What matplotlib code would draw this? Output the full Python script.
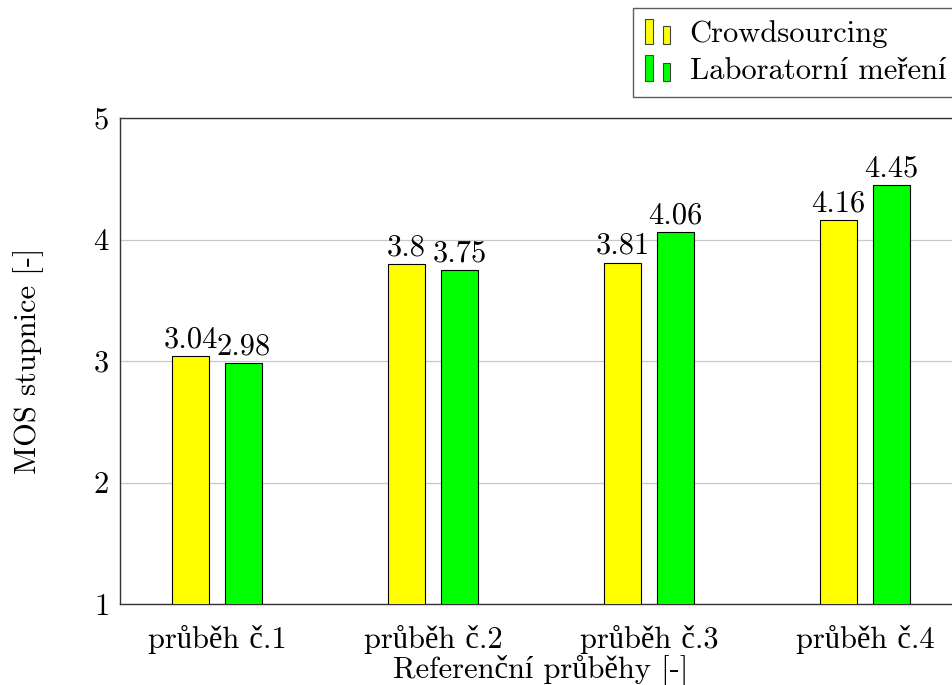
import numpy as np
import matplotlib
matplotlib.use("Agg")
import matplotlib.pyplot as plt
from matplotlib.patches import Rectangle
from matplotlib.legend_handler import HandlerBase

# cmr10 has no Czech accented letters, Liberation Serif fills them in
plt.rcParams['font.family'] = ['cmr10', 'Liberation Serif']
plt.rcParams['mathtext.fontset'] = 'cm'
plt.rcParams['axes.formatter.use_mathtext'] = True

categories = ['průběh č.1', 'průběh č.2', 'průběh č.3', 'průběh č.4']
crowd = [3.04, 3.8, 3.81, 4.16]
lab = [2.98, 3.75, 4.06, 4.45]
series_names = ['Crowdsourcing', 'Laboratorní meření']
colors = ['#ffff00', '#00ff00']


class TwoBars(HandlerBase):
    # pgfplots-like ybar legend image: tall bar + short bar
    def create_artists(self, legend, orig_handle, xd, yd, w, h, fs, trans):
        fc = orig_handle.get_facecolor()
        bw = h * 0.36
        y0 = yd - h * 0.1
        r1 = Rectangle((xd, y0), bw, h * 1.2, facecolor=fc,
                       edgecolor='#444444', lw=0.8, transform=trans)
        r2 = Rectangle((xd + h * 0.81, y0), bw, h * 0.86, facecolor=fc,
                       edgecolor='#444444', lw=0.8, transform=trans)
        return [r1, r2]


fs = 22
fig = plt.figure(figsize=(9.52, 6.85), dpi=100)
ax = fig.add_axes([0.1261, 0.1182, 0.8845, 0.7095])

x = np.arange(1, len(categories) + 1)
bw = 0.171
off = 0.1227
b1 = ax.bar(x - off, crowd, bw, bottom=0, color=colors[0], edgecolor='black', lw=0.8, zorder=3)
b2 = ax.bar(x + off, lab, bw, bottom=0, color=colors[1], edgecolor='black', lw=0.8, zorder=3)

for bars, vals in ((b1, crowd), (b2, lab)):
    for b, v in zip(bars, vals):
        ax.annotate(f'{v:g}', (b.get_x() + b.get_width() / 2, v), xytext=(0, 2),
                    textcoords='offset points', ha='center', va='bottom', fontsize=fs)

ax.set_ylim(1, 5)
ax.set_xlim(0.551, 4.449)
ax.set_xticks(x)
ax.set_xticklabels(categories, fontsize=fs)
ax.set_yticks([1, 2, 3, 4, 5])
ax.tick_params(axis='both', length=0, labelsize=fs)
ax.tick_params(axis='y', pad=8)
ax.tick_params(axis='x', pad=15)
ax.yaxis.grid(True, color='#c8c8c8', lw=0.9, zorder=0)
for s in ax.spines.values():
    s.set_color('#333333')
    s.set_linewidth(1.0)

ax.set_ylabel('MOS stupnice [-]', fontsize=fs, labelpad=35)
ax.set_xlabel('Referenční průběhy [-]', fontsize=fs, labelpad=0)

leg = fig.legend([b1[0], b2[0]], series_names, handler_map={type(b1[0]): TwoBars()},
                 loc='upper left', bbox_to_anchor=(633 / 952, 1 - 8 / 685), fontsize=fs,
                 frameon=True, fancybox=False, edgecolor='#333333', borderpad=0.4,
                 borderaxespad=0, handlelength=1.0, handletextpad=0.45, labelspacing=0.3)
leg.get_frame().set_linewidth(1.0)

fig.savefig('out.png', dpi=100)
